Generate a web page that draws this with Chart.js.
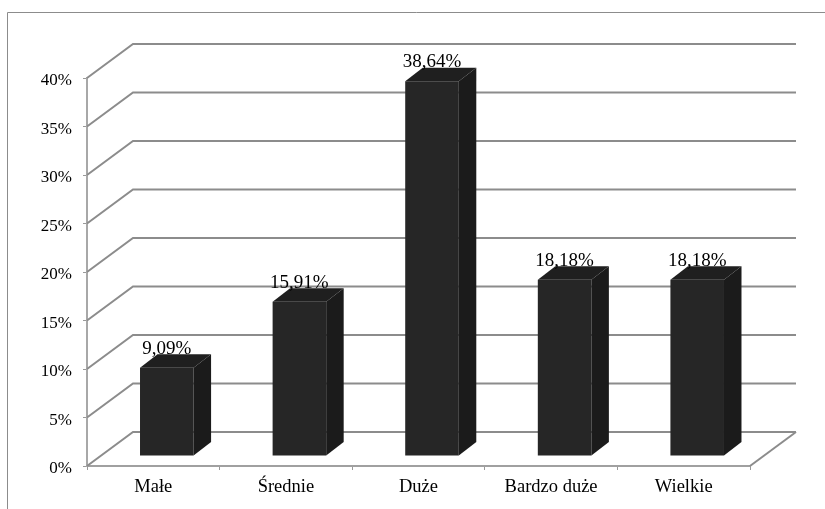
<!DOCTYPE html>
<html><head><meta charset="utf-8">
<script src="https://cdn.jsdelivr.net/npm/chart.js@4/dist/chart.umd.min.js"></script>
<style>html,body{margin:0;padding:0;background:#fff}#wrap{width:825px;height:509px;position:relative}</style>
</head><body><div id="wrap"><canvas id="c" width="825" height="509"></canvas></div>
<script>
const categories = ['Małe', 'Średnie', 'Duże', 'Bardzo duże', 'Wielkie'];
const shares = [9.09, 15.91, 38.64, 18.18, 18.18];
const yTicks = [0, 5, 10, 15, 20, 25, 30, 35, 40];

const WALL = {x: 46, y: -34};
const BAR_OFF = {x: 13.5, y: -10};
const BAR_D = {x: 17.5, y: -13.5};
const SERIF = "'Liberation Serif', 'Times New Roman', serif";

const fmt = v => v.toFixed(2).replace('.', ',') + '%';

const threeD = {
  id: 'threeD',
  beforeDraw(chart) {
    const ctx = chart.ctx;
    ctx.save();
    ctx.fillStyle = '#fff';
    ctx.fillRect(0, 0, chart.width, chart.height);
    ctx.strokeStyle = '#8c8c8c';
    ctx.lineWidth = 1;
    ctx.beginPath();
    ctx.moveTo(7.5, chart.height);
    ctx.lineTo(7.5, 12.5);
    ctx.lineTo(chart.width, 12.5);
    ctx.stroke();
    ctx.restore();
  },
  beforeDatasetsDraw(chart) {
    const {ctx, chartArea: a, scales: {y}} = chart;
    ctx.save();
    ctx.strokeStyle = '#8c8c8c';
    ctx.lineWidth = 2;
    yTicks.forEach(v => {
      const py = y.getPixelForValue(v);
      ctx.beginPath();
      ctx.moveTo(a.left, py);
      ctx.lineTo(a.left + WALL.x, py + WALL.y);
      ctx.lineTo(a.right + WALL.x, py + WALL.y);
      ctx.stroke();
    });
    const y0 = y.getPixelForValue(0);
    ctx.beginPath();
    ctx.moveTo(a.right, y0);
    ctx.lineTo(a.right + WALL.x, y0 + WALL.y);
    ctx.stroke();
    ctx.restore();
    ctx.save();
    ctx.translate(BAR_OFF.x, BAR_OFF.y);
  },
  afterDatasetsDraw(chart) {
    const ctx = chart.ctx;
    const meta = chart.getDatasetMeta(0);
    meta.data.forEach(bar => {
      const p = bar.getProps(['x', 'y', 'base', 'width'], true);
      const l = p.x - p.width / 2, r = p.x + p.width / 2, t = p.y, b = p.base;
      ctx.fillStyle = '#1b1b1b';
      ctx.beginPath();
      ctx.moveTo(r, t); ctx.lineTo(r + BAR_D.x, t + BAR_D.y);
      ctx.lineTo(r + BAR_D.x, b + BAR_D.y); ctx.lineTo(r, b);
      ctx.closePath(); ctx.fill();
      ctx.fillStyle = '#1f1f1f';
      ctx.beginPath();
      ctx.moveTo(l, t); ctx.lineTo(l + BAR_D.x, t + BAR_D.y);
      ctx.lineTo(r + BAR_D.x, t + BAR_D.y); ctx.lineTo(r, t);
      ctx.closePath(); ctx.fill();
    });
    ctx.restore();
    ctx.save();
    ctx.fillStyle = '#000';
    ctx.font = '19px ' + SERIF;
    ctx.textAlign = 'center';
    ctx.textBaseline = 'alphabetic';
    meta.data.forEach((bar, i) => {
      const p = bar.getProps(['x', 'y'], true);
      ctx.fillText(fmt(shares[i]), p.x + BAR_OFF.x, p.y + BAR_OFF.y - 14);
    });
    ctx.restore();
  }
};

new Chart(document.getElementById('c'), {
  type: 'bar',
  data: {
    labels: categories,
    datasets: [{
      data: shares,
      backgroundColor: '#262626',
      borderWidth: 0,
      barPercentage: 0.404,
      categoryPercentage: 1.0
    }]
  },
  plugins: [threeD],
  options: {
    responsive: false,
    devicePixelRatio: 1,
    animation: false,
    layout: {padding: {left: 0, right: 75, top: 78, bottom: 0}},
    plugins: {legend: {display: false}, tooltip: {enabled: false}},
    scales: {
      x: {
        type: 'category',
        offset: true,
        grid: {display: true, drawOnChartArea: false, drawTicks: true, tickLength: 4, color: '#999', offset: true, lineWidth: 1},
        border: {display: true, color: '#a0a0a0', width: 2},
        ticks: {font: {family: SERIF, size: 18.5}, color: '#000', padding: 6, maxRotation: 0},
        afterFit(s) { s.height = 43; }
      },
      y: {
        min: 0, max: 40,
        afterBuildTicks(s) { s.ticks = yTicks.map(v => ({value: v})); },
        ticks: {callback: v => v + '%', font: {family: SERIF, size: 17}, color: '#000', padding: 11, labelOffset: 3},
        grid: {display: true, drawOnChartArea: false, tickLength: 4, color: '#999', lineWidth: 1},
        border: {display: true, color: '#a8a8a8', width: 2},
        afterFit(s) { s.width = 87; }
      }
    }
  }
});
</script>
</body></html>
